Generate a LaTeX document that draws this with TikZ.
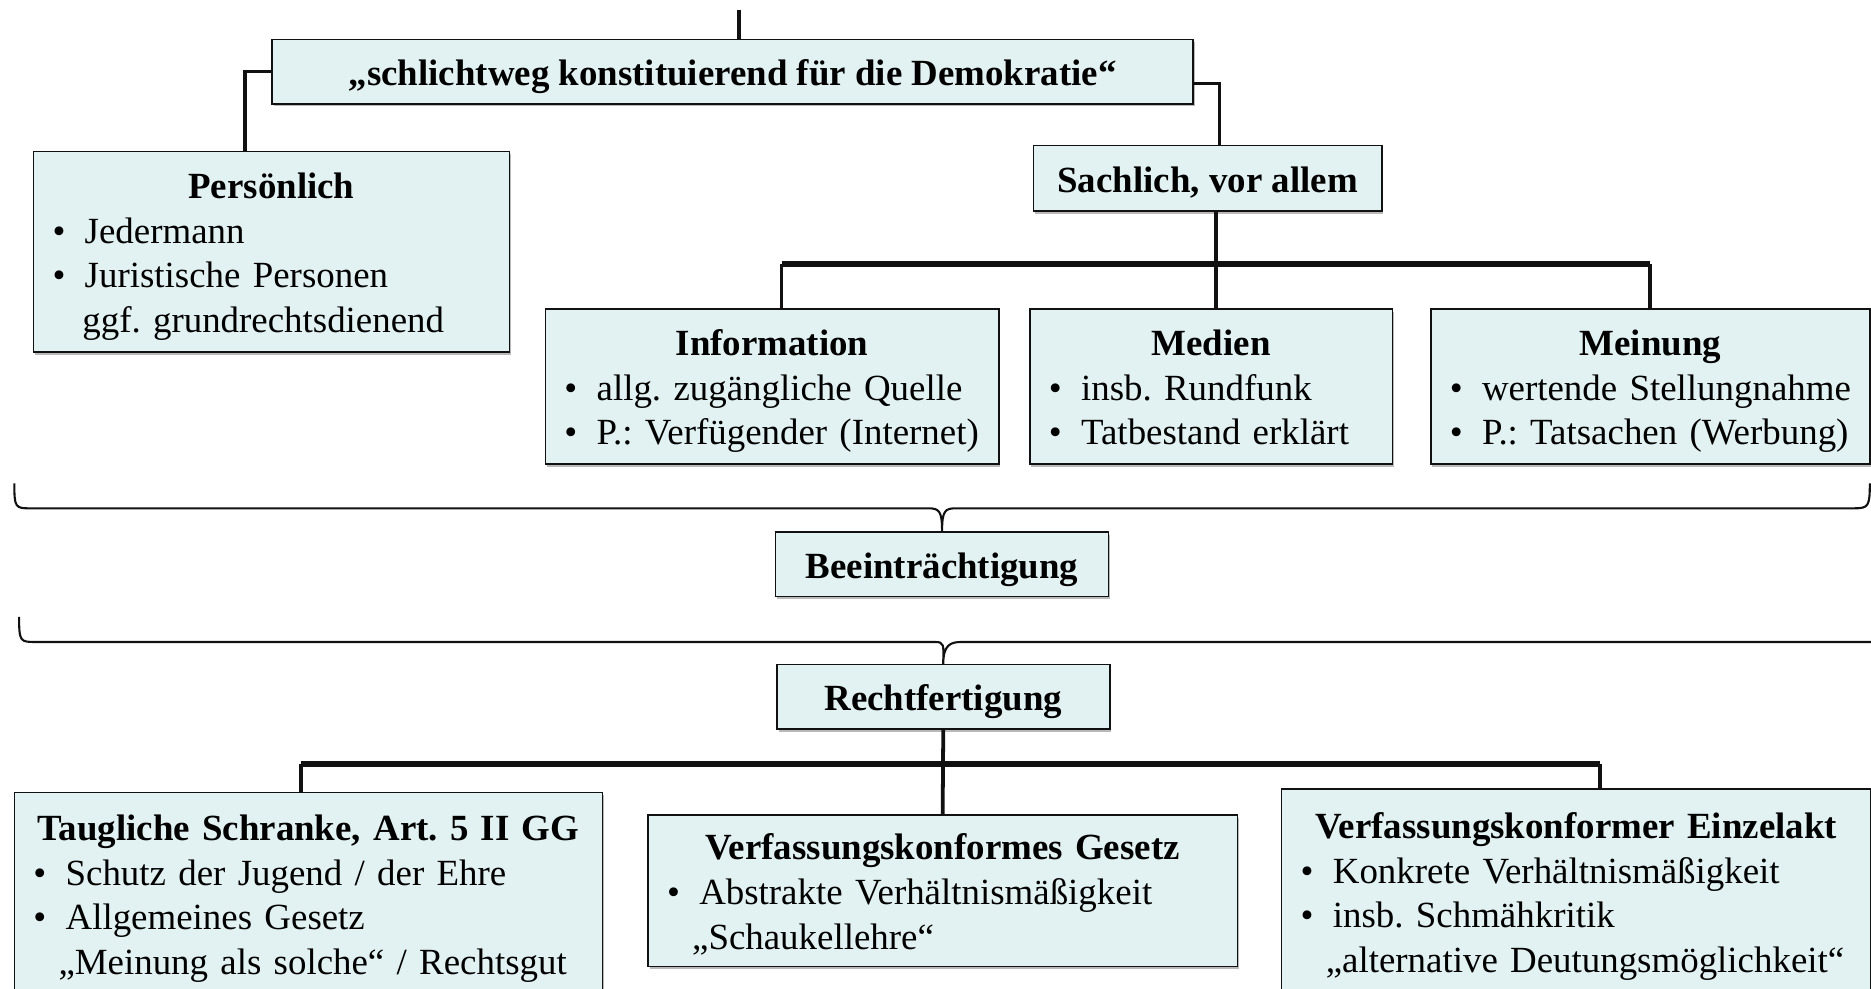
\documentclass[tikz,border=0pt]{standalone}
\usepackage{fontspec}
\setmainfont{Liberation Serif}
\usepackage{tikz}
\usetikzlibrary{positioning,calc,shadows}
\usepackage{xcolor}
\definecolor{BoxFill}{HTML}{E2F2F2}
\definecolor{LineBlack}{HTML}{111111}

\frenchspacing
\newcommand{\schrift}{\fontsize{17.6}{21.3}\selectfont}
\newcommand{\titel}[1]{{\centering\rule{0pt}{19.4pt}\strut\textbf{#1}\par}}
\newcommand{\pkt}[1]{\par\noindent\makebox[0.54cm][l]{\textbullet}\mbox{\strut#1}}
\newcommand{\fort}[1]{\par\noindent\hspace*{0.5cm}\mbox{\strut#1}}

\begin{document}
\begin{tikzpicture}[
    x=0.02cm, y=-0.02cm,
    box/.style={draw=LineBlack, line width=0.8pt, fill=BoxFill, font=\schrift,
      inner xsep=0.32cm, inner ysep=0pt,
      drop shadow={shadow xshift=0.8pt, shadow yshift=-1.2pt, fill=black!55}},
    kopf/.style={box, font=\schrift\bfseries, align=center, minimum height=1.08cm,
      text height=19.4pt, text depth=6.4pt},
    conn/.style={draw=LineBlack, line width=1.8pt},
    bus/.style={draw=LineBlack, line width=3pt},
    klammer/.style={draw=LineBlack, line width=1pt}
  ]
    \useasboundingbox (0,0) rectangle (1568,828);

    % Schutzbereich
    \coordinate (oben) at (619,8);
    \node[kopf, minimum width=15.44cm] (top) at (614,60) {„schlichtweg konstituierend für die Demokratie“};
    \node[box, text width=7.34cm, minimum height=3.36cm] (pers) at (227.5,211)
      {\titel{Persönlich}\pkt{Jedermann}\pkt{Juristische Personen}\fort{ggf. grundrechtsdienend}};
    \node[kopf, minimum width=5.84cm, minimum height=1.1cm] (sach) at (1012,149.5) {Sachlich, vor allem};

    \node[box, text width=6.96cm, minimum height=2.6cm] (info) at (647,324)
      {\titel{Information}\pkt{allg. zugängliche Quelle}\pkt{P.: Verfügender (Internet)}};
    \node[box, text width=5.44cm, minimum height=2.6cm] (med) at (1015,324)
      {\titel{Medien}\pkt{insb. Rundfunk}\pkt{Tatbestand erklärt}};
    \node[box, text width=6.72cm, minimum height=2.6cm] (mein) at (1383,324)
      {\titel{Meinung}\pkt{wertende Stellungnahme}\pkt{P.: Tatsachen (Werbung)}};

    \draw[conn] (oben) -- (oben |- top.north);
    \draw[conn] (top.west) -| ([xshift=-0.45cm]pers.north);
    \draw[conn] ([yshift=-0.2cm]top.east) -| ([xshift=0.2cm]sach.north);

    \coordinate (sbus) at (1019,221);
    \draw[conn] ([xshift=0.14cm]sach.south) -- ([xshift=0.14cm]sach.south |- med.north);
    \draw[conn] ([xshift=0.16cm]info.north) -- ([xshift=0.16cm]info.north |- sbus);
    \draw[conn] (mein.north) -- (mein.north |- sbus);
    \draw[bus] ([xshift=0.16cm]info.north |- sbus) -- (mein.north |- sbus);

    % Eingriff
    \node[kopf, minimum width=5.58cm] (beein) at (789.5,473) {Beeinträchtigung};
    \draw[klammer] (12,405) .. controls (12,426) and (13,426) .. (26,426) -- (778,426)
      .. controls (787,426) and (beein.north |- 0,428) .. (beein.north)
      .. controls (beein.north |- 0,428) and (792,426) .. (801,426) -- (1554,426)
      .. controls (1566,426) and (1567,424) .. (1567,405);

    % Rechtfertigung
    \node[kopf, minimum width=5.58cm] (recht) at (790.5,584) {Rechtfertigung};
    \draw[klammer] (16,517) .. controls (16,538) and (17,538) .. (30,538) -- (783,538)
      .. controls (792,538) and (recht.north |- 0,540) .. (recht.north)
      .. controls (recht.north |- 0,540) and (797,538) .. (806,538) -- (1568,538);

    \node[box, text width=9.22cm, minimum height=3.4cm] (taug) at (258.5,749)
      {\titel{Taugliche Schranke, Art. 5 II GG}\pkt{Schutz der Jugend / der Ehre}\pkt{Allgemeines Gesetz}\fort{\hspace*{-0.08cm}„Meinung als solche“ / Rechtsgut}};
    \node[box, text width=9.24cm, minimum height=2.54cm] (vges) at (790,746.5)
      {\titel{Verfassungskonformes Gesetz}\pkt{Abstrakte Verhältnismäßigkeit}\fort{\hspace*{-0.08cm}„Schaukellehre“}};
    \node[box, text width=9.24cm, minimum height=3.46cm] (eins) at (1321,747.5)
      {\titel{Verfassungskonformer Einzelakt}\pkt{Konkrete Verhältnismäßigkeit}\pkt{insb. Schmähkritik}\fort{\hspace*{-0.08cm}„alternative Deutungsmöglichkeit“}};

    \coordinate (rbus) at (790,640);
    \draw[conn] (recht.south) -- (vges.north);
    \draw[conn] ([xshift=-0.13cm]taug.north) -- ([xshift=-0.13cm]taug.north |- rbus);
    \draw[conn] ([xshift=0.4cm]eins.north) -- ([xshift=0.4cm]eins.north |- rbus);
    \draw[bus] ([xshift=-0.13cm]taug.north |- rbus) -- ([xshift=0.4cm]eins.north |- rbus);
  \end{tikzpicture}
\end{document}
